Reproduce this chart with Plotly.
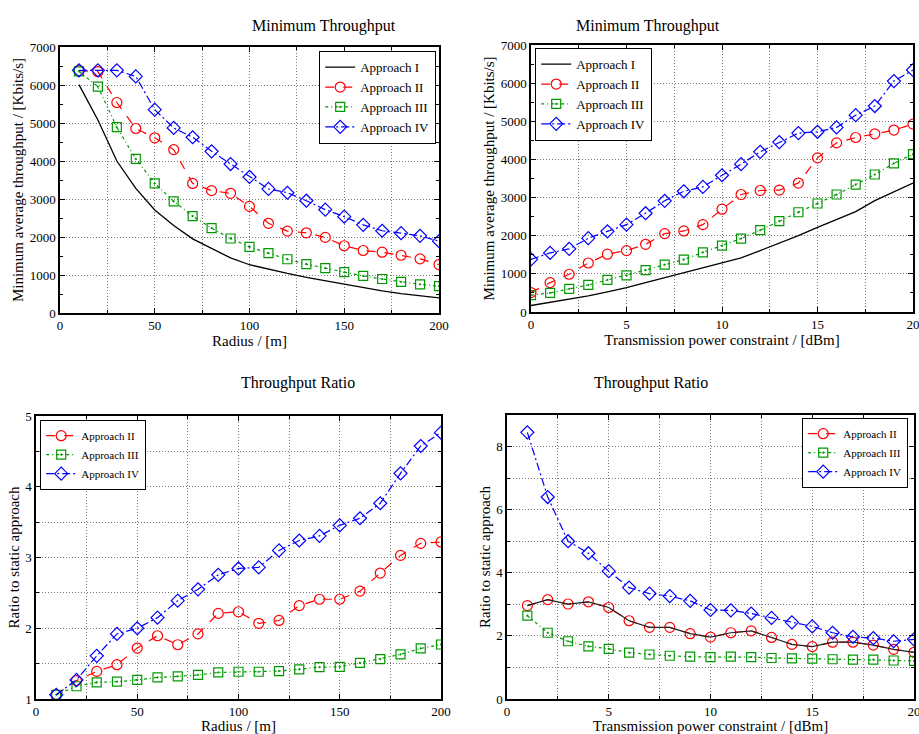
import plotly.graph_objects as go

# ---------------- data ----------------
radius = [10, 20, 30, 40, 50, 60, 70, 80, 90, 100, 110, 120, 130, 140, 150, 160, 170, 180, 190, 200]
power_all = list(range(0, 21))
power_ratio = list(range(1, 21))

# Panel 1: minimum throughput vs radius
r_app1 = [6010, 5080, 4000, 3280, 2710, 2300, 1950, 1700, 1450, 1270, 1150, 1040, 940, 850, 750, 660, 580, 510, 450, 400]
r_app2 = [6380, 6350, 5540, 4855, 4610, 4300, 3410, 3220, 3150, 2805, 2360, 2155, 2110, 1990, 1770, 1645, 1600, 1520, 1425, 1275]
r_app3 = [6360, 5955, 4890, 4055, 3410, 2940, 2550, 2235, 1960, 1740, 1575, 1415, 1285, 1180, 1075, 975, 895, 820, 755, 705]
r_app4 = [6385, 6385, 6385, 6225, 5350, 4870, 4625, 4255, 3920, 3580, 3265, 3165, 2955, 2720, 2535, 2320, 2165, 2100, 2030, 1890]

# Panel 2: minimum throughput vs power
p_app1 = [170, 250, 330, 420, 530, 640, 770, 900, 1020, 1150, 1270, 1420, 1610, 1800, 2000, 2220, 2430, 2630, 2920, 3160, 3380]
p_app2 = [510, 770, 990, 1285, 1515, 1610, 1775, 2055, 2125, 2290, 2695, 3080, 3185, 3195, 3380, 4040, 4435, 4575, 4670, 4770, 4925]
p_app3 = [440, 500, 605, 710, 840, 960, 1100, 1240, 1375, 1565, 1740, 1925, 2145, 2380, 2615, 2845, 3080, 3340, 3605, 3895, 4140]
p_app4 = [1380, 1550, 1655, 1935, 2115, 2290, 2590, 2915, 3165, 3280, 3585, 3875, 4200, 4455, 4690, 4725, 4840, 5160, 5400, 6055, 6345]

# Panel 3: ratio vs radius
rr_app2 = [1.06, 1.26, 1.39, 1.485, 1.72, 1.894, 1.767, 1.92, 2.21, 2.233, 2.07, 2.11, 2.32, 2.41, 2.41, 2.525, 2.78, 3.03, 3.20, 3.22]
rr_app3 = [1.06, 1.18, 1.235, 1.245, 1.27, 1.305, 1.32, 1.34, 1.375, 1.385, 1.385, 1.395, 1.42, 1.45, 1.455, 1.51, 1.565, 1.63, 1.715, 1.77]
rr_app4 = [1.06, 1.27, 1.61, 1.92, 2.0, 2.15, 2.39, 2.55, 2.755, 2.845, 2.86, 3.10, 3.24, 3.305, 3.455, 3.555, 3.767, 4.19, 4.576, 4.765]

# Panel 4: ratio vs power
pr_app2 = [2.96, 3.15, 3.01, 3.08, 2.90, 2.48, 2.27, 2.27, 2.07, 1.96, 2.10, 2.16, 1.95, 1.73, 1.66, 1.80, 1.80, 1.71, 1.575, 1.48]
pr_app3 = [2.64, 2.10, 1.83, 1.67, 1.59, 1.47, 1.41, 1.37, 1.34, 1.33, 1.34, 1.33, 1.30, 1.29, 1.28, 1.26, 1.25, 1.25, 1.22, 1.21]
pr_app4 = [8.45, 6.40, 5.00, 4.62, 4.05, 3.53, 3.34, 3.26, 3.11, 2.82, 2.81, 2.71, 2.57, 2.43, 2.30, 2.10, 1.97, 1.93, 1.83, 1.89]

names = ["Approach I", "Approach II", "Approach III", "Approach IV"]

# ---------------- styles ----------------
FONT = "Liberation Serif, Times New Roman, serif"
RED, GREEN, BLUE = "#ff0000", "#009900", "#0000ff"
st2 = dict(color=RED, dash="dash", width=1.2)
st3 = dict(color=GREEN, dash="3px,3px,1px,3px", width=1.2)
st4 = dict(color=BLUE, dash="8px,3px,2px,3px", width=1.2)
mk2 = dict(symbol="circle-open", size=10, color=RED, line=dict(width=1.2))
mk3 = dict(symbol="square-open-dot", size=9, color=GREEN, line=dict(width=1.2))
mk4 = dict(symbol="diamond-open", size=10, color=BLUE, line=dict(width=1.2))

fig = go.Figure()

def add(x, y, name, line, marker, xa, ya, leg, mode="lines+markers", showlegend=True):
    fig.add_trace(go.Scatter(x=x, y=y, name=name, mode=mode, line=line,
                             marker=marker, xaxis=xa, yaxis=ya, legend=leg,
                             showlegend=showlegend))

# panel 1
add(radius, r_app1, names[0], dict(color="black", width=1.3), None, "x", "y", "legend", mode="lines")
add(radius, r_app2, names[1], st2, mk2, "x", "y", "legend")
add(radius, r_app3, names[2], st3, mk3, "x", "y", "legend")
add(radius, r_app4, names[3], st4, mk4, "x", "y", "legend")
# panel 2
add(power_all, p_app1, names[0], dict(color="black", width=1.3), None, "x2", "y2", "legend2", mode="lines")
add(power_all, p_app2, names[1], st2, mk2, "x2", "y2", "legend2")
add(power_all, p_app3, names[2], st3, mk3, "x2", "y2", "legend2")
add(power_all, p_app4, names[3], st4, mk4, "x2", "y2", "legend2")
# panel 3
add(radius, rr_app2, names[1], st2, mk2, "x3", "y3", "legend3")
add(radius, rr_app3, names[2], st3, mk3, "x3", "y3", "legend3")
add(radius, rr_app4, names[3], st4, mk4, "x3", "y3", "legend3")
# panel 4
add(power_ratio, pr_app2, names[1], st2, mk2, "x4", "y4", "legend4")
add(power_ratio, pr_app2, names[1], dict(color="#222222", width=1.2), None, "x4", "y4", "legend4",
    mode="lines", showlegend=False)
add(power_ratio, pr_app3, names[2], st3, mk3, "x4", "y4", "legend4")
add(power_ratio, pr_app4, names[3], st4, mk4, "x4", "y4", "legend4")

W, H = 919, 734
def px_x(p): return p / W
def px_y(p): return 1 - p / H

GRID = "#7a7a7a"
GDASH = "1px,2px"

def xaxis(dom, anchor, rng, dtick, minor_dtick, title):
    return dict(domain=[px_x(dom[0]), px_x(dom[1])], anchor=anchor, range=rng, automargin=False,
                dtick=dtick, tick0=0, showline=True, linecolor="black", linewidth=1.5,
                mirror="allticks", ticks="inside", ticklen=5, tickcolor="black",
                showgrid=True, gridcolor=GRID, griddash=GDASH, gridwidth=1,
                zeroline=False, ticklabeloverflow="allow",
                minor=dict(dtick=minor_dtick, tick0=0, showgrid=True, gridcolor=GRID,
                           griddash=GDASH, ticks="inside", ticklen=3, tickcolor="black"),
                tickfont=dict(family=FONT, size=13, color="black"),
                title=dict(text=title, font=dict(family=FONT, size=15, color="black"), standoff=0))

def yaxis(dom, anchor, rng, dtick, minor_dtick, title, minor_grid=False):
    return dict(domain=[px_y(dom[1]), px_y(dom[0])], anchor=anchor, range=rng, automargin=False,
                dtick=dtick, tick0=0, showline=True, linecolor="black", linewidth=1.5,
                mirror="allticks", ticks="inside", ticklen=5, tickcolor="black",
                showgrid=True, gridcolor=GRID, griddash=GDASH, gridwidth=1,
                zeroline=False, ticklabeloverflow="allow",
                minor=dict(dtick=minor_dtick, tick0=0, showgrid=minor_grid, gridcolor=GRID,
                           griddash=GDASH, ticks="inside", ticklen=3, tickcolor="black"),
                tickfont=dict(family=FONT, size=13, color="black"),
                title=dict(text=title, font=dict(family=FONT, size=15, color="black"), standoff=2))

legfont = dict(family=FONT, size=13, color="black")
legfont_s = dict(family=FONT, size=11, color="black")

def legend(x, y, font, xanchor="left"):
    return dict(x=px_x(x), y=px_y(y), xanchor=xanchor, yanchor="top", bgcolor="white",
                bordercolor="black", borderwidth=1.2, font=font, tracegroupgap=0,
                itemwidth=30)

TFONT = dict(family=FONT, size=16, color="black")

fig.update_layout(
    width=W, height=H, margin=dict(l=0, r=0, t=0, b=0, autoexpand=False),
    paper_bgcolor="white", plot_bgcolor="white",
    font=dict(family=FONT, color="black"),
    xaxis=xaxis((60, 439), "y", [0, 200], 50, 25, "Radius / [m]"),
    yaxis=yaxis((47, 313), "x", [0, 7000], 1000, 500, "Minimum average throughput / [Kbits/s]"),
    xaxis2=xaxis((531, 913), "y2", [0, 20], 5, 2.5, "Transmission power constraint / [dBm]"),
    yaxis2=yaxis((45, 312), "x2", [0, 7000], 1000, 500, "Minimum average throughput / [Kbits/s]"),
    xaxis3=xaxis((36, 441), "y3", [0, 200], 50, 25, "Radius / [m]"),
    yaxis3=yaxis((416, 699), "x3", [1, 5], 1, 0.5, "Ratio to static approach", minor_grid=True),
    xaxis4=xaxis((507, 914), "y4", [0, 20], 5, 2.5, "Transmission power constraint / [dBm]"),
    yaxis4=yaxis((415, 699), "x4", [0, 9], 2, 1, "Ratio to static approach", minor_grid=True),
    legend=legend(436, 51, legfont, xanchor="right"),
    legend2=legend(535, 48, legfont),
    legend3=legend(40, 420, legfont_s),
    legend4=legend(908, 418, legfont_s, xanchor="right"),
    annotations=[
        dict(text="Minimum Throughput", x=px_x(249.5), y=px_y(15), xref="paper", yref="paper",
             showarrow=False, font=TFONT),
        dict(text="Minimum Throughput", x=px_x(722), y=px_y(15), xref="paper", yref="paper",
             showarrow=False, font=TFONT),
        dict(text="Throughput Ratio", x=px_x(238.5), y=px_y(383), xref="paper", yref="paper",
             showarrow=False, font=TFONT),
        dict(text="Throughput Ratio", x=px_x(710), y=px_y(383), xref="paper", yref="paper",
             showarrow=False, font=TFONT),
    ],
)

fig.write_html("out.html", config={"displayModeBar": False},
               post_script="document.body.style.margin='0px';document.body.style.overflow='hidden';")
